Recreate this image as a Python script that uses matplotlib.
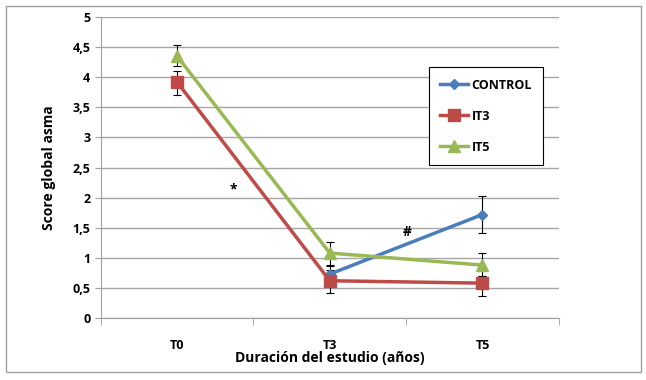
import matplotlib.pyplot as plt
import numpy as np
from matplotlib.patches import Rectangle

# data
tiempos = ["T0", "T3", "T5"]

control = [np.nan, 0.73, 1.72]
control_lo = [np.nan, 0.58, 1.41]
control_hi = [np.nan, 0.86, 2.02]

it3 = [3.92, 0.62, 0.58]
it3_lo = [3.70, 0.42, 0.37]
it3_hi = [4.10, 0.80, 0.70]

it5 = [4.35, 1.08, 0.88]
it5_lo = [4.18, 0.88, 0.70]
it5_hi = [4.53, 1.27, 1.08]

plt.rcParams['font.family'] = ['Open Sans', 'DejaVu Sans']
plt.rcParams['font.weight'] = 'bold'

fig = plt.figure(figsize=(6.46, 3.80), dpi=100)
fig.patches.append(Rectangle((0.009, 0.02), 0.983, 0.965, transform=fig.transFigure,
                             fill=False, edgecolor='#a0a0a0', linewidth=1))
ax = fig.add_axes([0.156, 0.163, 0.709, 0.792])

x = np.arange(len(tiempos))
series = [
    ("CONTROL", control, control_lo, control_hi, '#4a7ebb', 'D', 5),
    ("IT3", it3, it3_lo, it3_hi, '#be4b48', 's', 8),
    ("IT5", it5, it5_lo, it5_hi, '#98b954', '^', 8),
]
for name, y, lo, hi, col, mk, ms in series:
    y = np.array(y)
    err = [y - np.array(lo), np.array(hi) - y]
    ax.errorbar(x, y, yerr=err, fmt='none', ecolor='black', elinewidth=0.8,
                capsize=3, capthick=0.8, zorder=2)
    ax.plot(x, y, color=col, marker=mk, markersize=ms, linewidth=2.5,
            label=name, zorder=3)

ax.text(0.37, 2.14, "*", ha='center', va='center', fontsize=10)
ax.text(1.51, 1.43, "#", ha='center', va='center', fontsize=10)

ax.set_xlim(-0.5, 2.5)
ax.set_ylim(0, 5)
ax.set_yticks(np.arange(0, 5.01, 0.5))
ax.set_yticklabels(["0", "0,5", "1", "1,5", "2", "2,5", "3", "3,5", "4", "4,5", "5"])
ax.set_xticks(x)
ax.set_xticklabels(tiempos)
ax.set_xticks([-0.5, 0.5, 1.5, 2.5], minor=True)
ax.tick_params(axis='x', which='major', length=0, pad=15, labelsize=9)
ax.tick_params(axis='x', which='minor', length=5, color='#a0a0a0')
ax.tick_params(axis='y', length=4, color='#a0a0a0', labelsize=9)
ax.grid(axis='y', color='#a6a6a6', linewidth=1)
ax.set_axisbelow(True)
for s in ['top', 'right']:
    ax.spines[s].set_visible(False)
ax.spines['left'].set_color('#a0a0a0')
ax.spines['bottom'].set_color('#a0a0a0')

ax.set_xlabel("Duración del estudio (años)", fontsize=10, fontweight='bold', labelpad=-1)
ax.set_ylabel("Score global asma", fontsize=10, fontweight='bold', labelpad=12)

leg = ax.legend(loc='upper left', bbox_to_anchor=(0.703, 0.854), fancybox=False,
                edgecolor='black', framealpha=1, fontsize=9, handlelength=2.2,
                handletextpad=0.3, labelspacing=1.45, borderpad=0.9)
leg.get_frame().set_linewidth(0.8)

fig.savefig("out.png", dpi=100)
